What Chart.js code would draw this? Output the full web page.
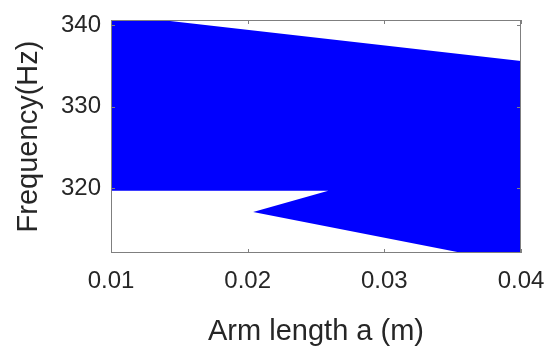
<!DOCTYPE html>
<html>
<head>
<meta charset="utf-8">
<script src="https://cdn.jsdelivr.net/npm/chart.js@4/dist/chart.umd.min.js"></script>
<style>
  html, body { margin: 0; padding: 0; background: #fff; }
  #wrap { width: 548px; height: 349px; }
</style>
</head>
<body>
<div id="wrap"><canvas id="c" width="548" height="349"></canvas></div>
<script>
// region boundary (polygon, in data units)
const armLength = [0.01, 0.04, 0.04, 0.0204, 0.0259, 0.01];
const frequency = [341.3, 335.6, 310.7, 317.1, 319.7, 319.7];

const xTicks = [0.01, 0.02, 0.03, 0.04];
const yTicks = [320, 330, 340];

const points = armLength.map((a, i) => ({ x: a, y: frequency[i] }));

const textColor = '#262626';
const boxColor = '#7f7f7f';

// box around the plot + small inward ticks on all four sides
const boxPlugin = {
  id: 'box',
  afterDraw(chart) {
    const { ctx, chartArea: a, scales } = chart;
    ctx.save();
    ctx.strokeStyle = boxColor;
    ctx.lineWidth = 1;
    ctx.strokeRect(a.left + 0.5, a.top + 0.5, a.right - a.left - 1, a.bottom - a.top - 1);
    ctx.beginPath();
    xTicks.forEach(v => {
      const px = Math.round(scales.x.getPixelForValue(v)) + 0.5;
      ctx.moveTo(px, a.bottom); ctx.lineTo(px, a.bottom - 4);
      ctx.moveTo(px, a.top); ctx.lineTo(px, a.top + 4);
    });
    yTicks.forEach(v => {
      const py = Math.round(scales.y.getPixelForValue(v)) + 0.5;
      ctx.moveTo(a.left, py); ctx.lineTo(a.left + 4, py);
      ctx.moveTo(a.right, py); ctx.lineTo(a.right - 4, py);
    });
    ctx.stroke();
    ctx.restore();
  }
};

// keep the plot box where the reference has it (no extra label margins)
function noMargins(s) {
  s.paddingLeft = 0; s.paddingRight = 0;
  s.paddingTop = 0; s.paddingBottom = 0;
}

new Chart(document.getElementById('c'), {
  type: 'scatter',
  data: {
    datasets: [{
      data: points,
      showLine: true,
      fill: 'shape',
      backgroundColor: '#0000ff',
      borderColor: '#0000ff',
      borderWidth: 0,
      pointRadius: 0,
      tension: 0
    }]
  },
  options: {
    responsive: false,
    animation: false,
    layout: { padding: { top: 20, right: 27, left: 0, bottom: 0 } },
    plugins: { legend: { display: false }, tooltip: { enabled: false } },
    scales: {
      x: {
        type: 'linear',
        min: 0.01,
        max: 0.04,
        afterFit: s => { s.height = 96; noMargins(s); },
        afterBuildTicks: s => { s.ticks = xTicks.map(v => ({ value: v })); },
        grid: { display: false, drawTicks: false },
        border: { display: false },
        ticks: {
          padding: 14,
          color: textColor,
          font: { family: 'Liberation Sans', size: 24 },
          callback: v => v.toFixed(2),
          maxRotation: 0
        },
        title: {
          display: true,
          text: 'Arm length a (m)',
          color: textColor,
          font: { family: 'Liberation Sans', size: 29 },
          padding: { top: 0, bottom: 0 }
        }
      },
      y: {
        type: 'linear',
        min: 312.1,
        max: 340.6,
        afterFit: s => { s.width = 111; noMargins(s); },
        afterBuildTicks: s => { s.ticks = yTicks.map(v => ({ value: v })); },
        grid: { display: false, drawTicks: false },
        border: { display: false },
        ticks: {
          padding: 10,
          color: textColor,
          font: { family: 'Liberation Sans', size: 24 }
        },
        title: {
          display: true,
          text: 'Frequency(Hz)',
          color: textColor,
          font: { family: 'Liberation Sans', size: 29 },
          padding: { top: 12, bottom: 0 }
        }
      }
    }
  },
  plugins: [boxPlugin]
});
</script>
</body>
</html>
